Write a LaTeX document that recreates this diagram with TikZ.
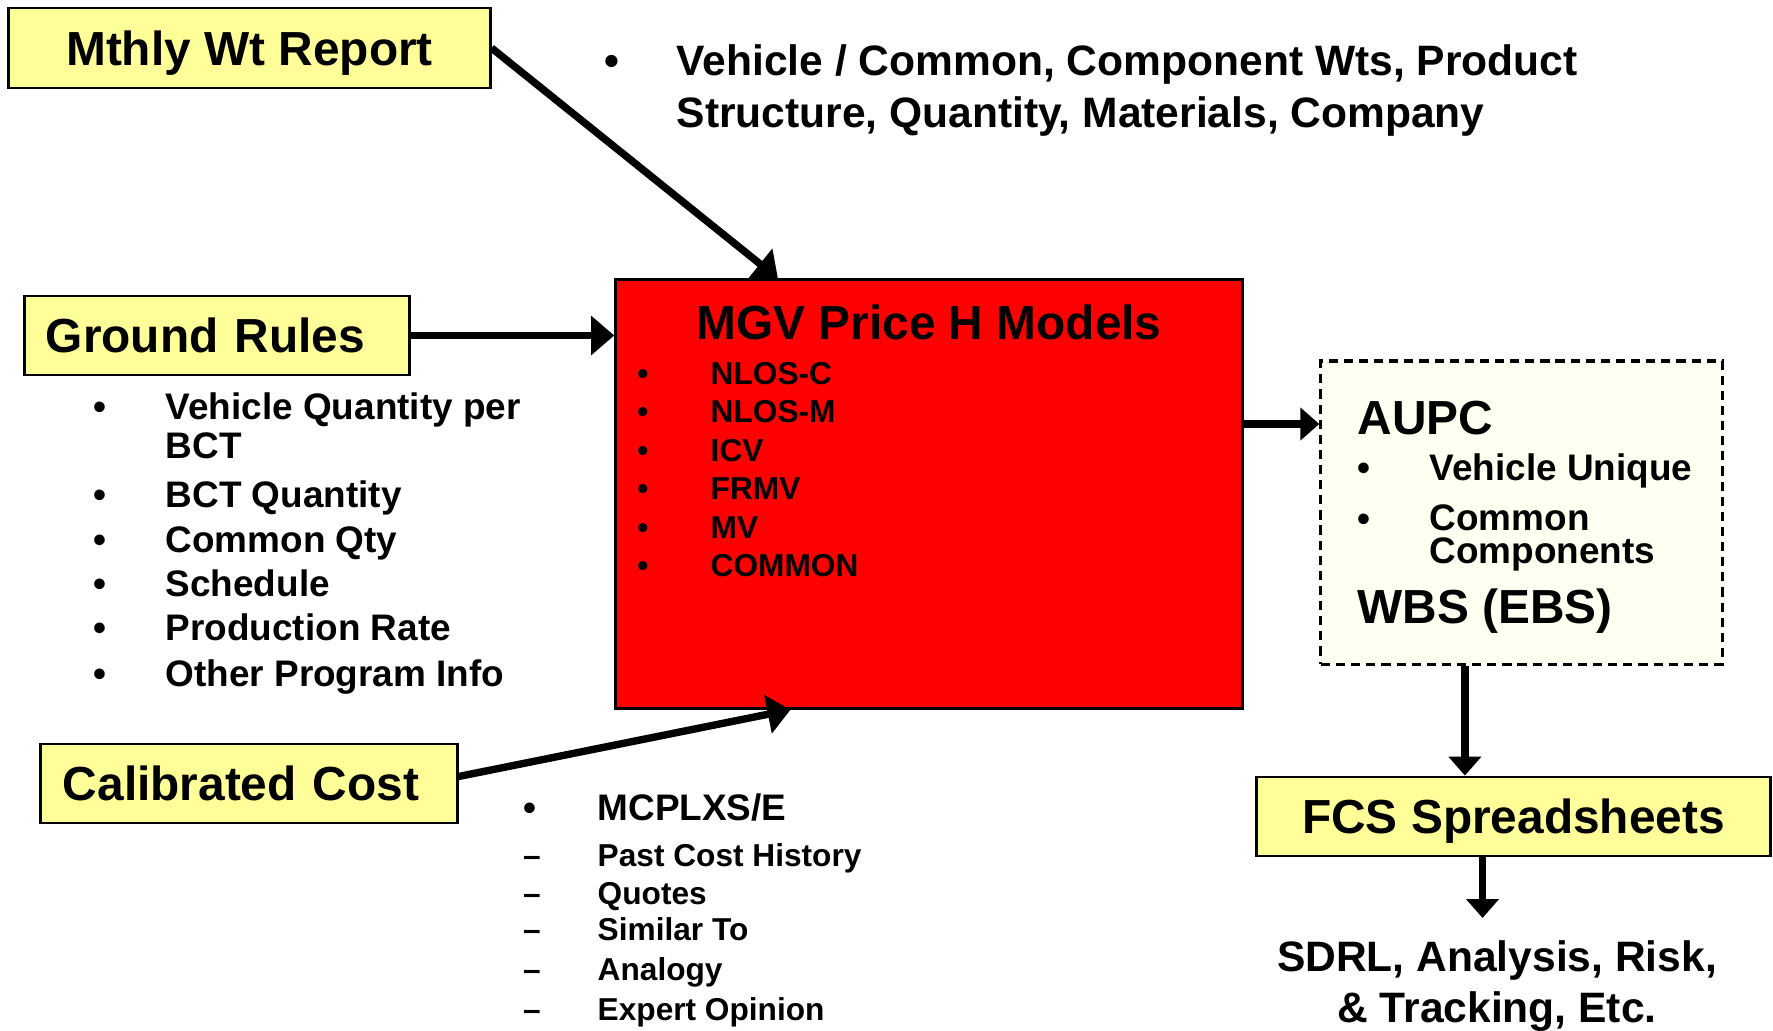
\documentclass[tikz,border=0pt]{standalone}
\usepackage{fontspec}
\setmainfont{Liberation Sans}
\usetikzlibrary{arrows.meta,calc}
\definecolor{noteyellow}{RGB}{255,255,153}
\definecolor{paper}{RGB}{255,255,242}
\definecolor{modelred}{RGB}{255,0,0}

\begin{document}
\begin{tikzpicture}[x=0.01cm,y=-0.01cm,
  srcbox/.style={draw,line width=0.8pt,fill=noteyellow,inner sep=0pt,text height=0.97em,text depth=0pt,font=\fontsize{13.6}{16}\selectfont\bfseries},
  feed/.style={line width=2.1pt,-{Triangle[length=0.23cm,width=0.38cm]}},
  outfeed/.style={line width=2.1pt,-{Triangle[length=0.19cm,width=0.32cm]}},
  head/.style={inner sep=0pt,anchor=base west,font=\fontsize{13.6}{16}\selectfont\bfseries},
  item/.style={inner sep=0pt,anchor=base west,font=\fontsize{10.5}{12}\selectfont\bfseries},
  subitem/.style={inner sep=0pt,anchor=base west,font=\fontsize{9}{11}\selectfont\bfseries},
  dot/.style={inner sep=0pt,anchor=base,font=\fontsize{10.5}{12}\selectfont\bfseries}]
  \useasboundingbox (0,0) rectangle (1773,1030);

  % inputs
  \node[srcbox,minimum width=4.81cm,minimum height=0.80cm] (mthly) at (249.5,48) {Mthly Wt Report};
  \node[srcbox,minimum width=3.84cm,minimum height=0.79cm,text width=3.42cm,align=left] (ground) at (217,335.5) {Ground Rules};
  \node[srcbox,minimum width=4.16cm,minimum height=0.79cm,text width=3.72cm,align=left] (calib) at (249,783.5) {Calibrated Cost};

  \node[dot,font=\fontsize{12.1}{14}\selectfont\bfseries] (wtdot) at (612,75) {•};
  \node[inner sep=0pt,anchor=north west,align=left,font=\fontsize{12.1}{14.8}\selectfont\bfseries] (wtnote) at (676,44)
    {Vehicle / Common, Component Wts, Product\\Structure, Quantity, Materials, Company};

  \foreach \txt/\y [count=\i] in {Vehicle Quantity per/419,BCT Quantity/507,Common Qty/552,Schedule/596.5,Production Rate/640.5,Other Program Info/686} {
    \node[dot] (grdot\i) at (99.5,\y) {•};
    \node[item] (gr\i) at (165,\y) {\txt};
  }
  \node[item] (gr1b) at (165,458.5) {BCT};

  \node[dot] (mcdot) at (530,820) {•};
  \node[item] (mcplx) at (597,820) {MCPLXS/E};
  \foreach \txt/\y [count=\i] in {Past Cost History/866,Quotes/904.5,Similar To/940,Analogy/980,Expert Opinion/1020} {
    \node[dot,font=\fontsize{9}{11}\selectfont\bfseries] (mcdash\i) at (532,\y) {–};
    \node[subitem] (mc\i) at (597,\y) {\txt};
  }

  % price H models
  \node[draw,line width=0.9pt,fill=modelred,minimum width=6.26cm,minimum height=4.28cm] (model) at (929,494) {};
  \node[head,anchor=base] (modeltitle) at (929,339) {MGV Price H Models};
  \foreach \name [count=\i] in {NLOS-C,NLOS-M,ICV,FRMV,MV,COMMON} {
    \node[dot,font=\fontsize{9}{11}\selectfont\bfseries] (mdot\i) at (643,{345.5+38.5*\i}) {•};
    \node[subitem] (m\i) at (710,{345.5+38.5*\i}) {\name};
  }

  % outputs
  \node[draw,dash pattern=on 2.6pt off 1.7pt,line width=0.9pt,fill=paper,minimum width=4.01cm,minimum height=3.03cm] (aupc) at (1521.5,512.5) {};
  \node[head] (aupctitle) at (1357,434) {AUPC};
  \node[dot] (audot1) at (1364,480) {•};
  \node[item] (au1) at (1429,480) {Vehicle Unique};
  \node[dot] (audot2) at (1364,531) {•};
  \node[item] (au2) at (1429,530) {Common};
  \node[item] (au2b) at (1429,563) {Components};
  \node[head] (wbs) at (1357,623) {WBS (EBS)};

  \node[srcbox,minimum width=5.13cm,minimum height=0.79cm] (fcs) at (1513.5,816.5) {FCS Spreadsheets};
  \node[inner xsep=0pt,inner ysep=0.22cm,anchor=north,align=center,font=\fontsize{12.1}{14.4}\selectfont\bfseries] (sdrl) at (1497,918)
    {SDRL, Analysis, Risk,\\\& Tracking, Etc.};

  % connectors
  \coordinate (modelin) at ($(model.north west)!0.26!(model.north east)$);
  \draw[feed] (mthly.east) -- (modelin);
  \draw[feed] (ground.east) -- (ground.east -| model.west);
  \draw[feed] ($(calib.east)+(0,-7)$) -- ($(model.south west)!0.28!(model.south east)$);
  \coordinate (modelout) at (model.east |- 0,424);
  \draw[outfeed] (modelout) -- (modelout -| aupc.west);
  \coordinate (aupcout) at ($(aupc.south west)!0.36!(aupc.south east)$);
  \draw[outfeed] (aupcout) -- (aupcout |- fcs.north);
  \coordinate (fcsout) at ($(fcs.south west)!0.44!(fcs.south east)$);
  \draw[outfeed] (fcsout) -- (fcsout |- sdrl.north);
\end{tikzpicture}
\end{document}
